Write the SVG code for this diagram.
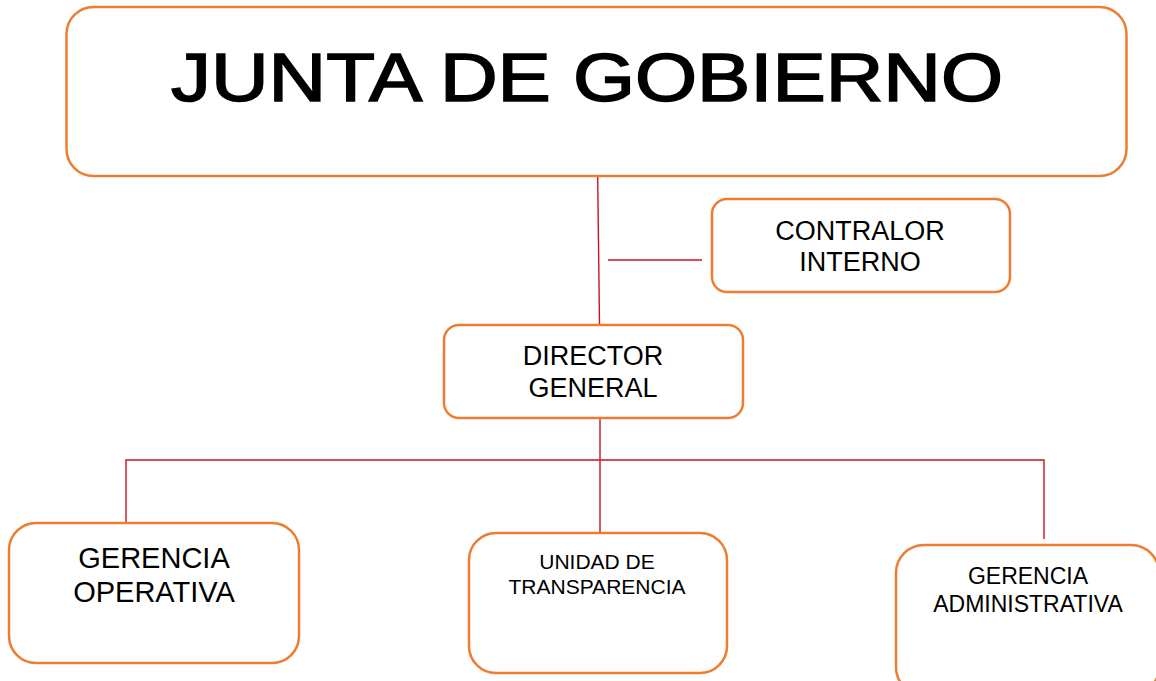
<svg xmlns="http://www.w3.org/2000/svg" width="1156" height="681" viewBox="0 0 1156 681">
<style>
.box{fill:#fff;stroke:#ED7D31;stroke-width:2.5}
.ln{stroke:#D0101E;stroke-width:1.4;fill:none}
.t{font-family:"Liberation Sans",Arial,sans-serif;fill:#000;text-anchor:middle}
</style>
<rect width="1156" height="681" fill="#fff"/>
<g id="connectors">
<line class="ln" x1="597.7" y1="177" x2="599.5" y2="325"/>
<line class="ln" x1="608" y1="260" x2="702" y2="260"/>
<line class="ln" x1="600" y1="418" x2="600" y2="533"/>
<polyline class="ln" points="126,522 126,460 1044,460 1044,539"/>
</g>
<g id="junta">
<rect class="box" x="66.5" y="7" width="1060" height="169" rx="27"/>
<text class="t" x="587" y="101" font-size="68" stroke="#000" stroke-width="1.6" textLength="832" lengthAdjust="spacingAndGlyphs">JUNTA DE GOBIERNO</text>
</g>
<g id="contralor">
<rect class="box" x="712" y="199" width="298" height="93" rx="15"/>
<text class="t" x="860" y="240" font-size="27">CONTRALOR</text>
<text class="t" x="860" y="271" font-size="27">INTERNO</text>
</g>
<g id="director">
<rect class="box" x="444" y="325" width="299" height="93" rx="15"/>
<text class="t" x="593" y="365" font-size="27">DIRECTOR</text>
<text class="t" x="593" y="397" font-size="27">GENERAL</text>
</g>
<g id="operativa">
<rect class="box" x="9" y="523" width="290" height="140" rx="27"/>
<text class="t" x="154" y="568" font-size="29">GERENCIA</text>
<text class="t" x="154" y="602" font-size="29">OPERATIVA</text>
</g>
<g id="transparencia">
<rect class="box" x="469" y="533" width="258" height="140" rx="27"/>
<text class="t" x="597" y="569" font-size="21">UNIDAD DE</text>
<text class="t" x="597" y="594" font-size="21">TRANSPARENCIA</text>
</g>
<g id="administrativa">
<rect class="box" x="896" y="545" width="263" height="150" rx="28"/>
<text class="t" x="1028" y="584" font-size="23">GERENCIA</text>
<text class="t" x="1028" y="612" font-size="23">ADMINISTRATIVA</text>
</g>
</svg>
